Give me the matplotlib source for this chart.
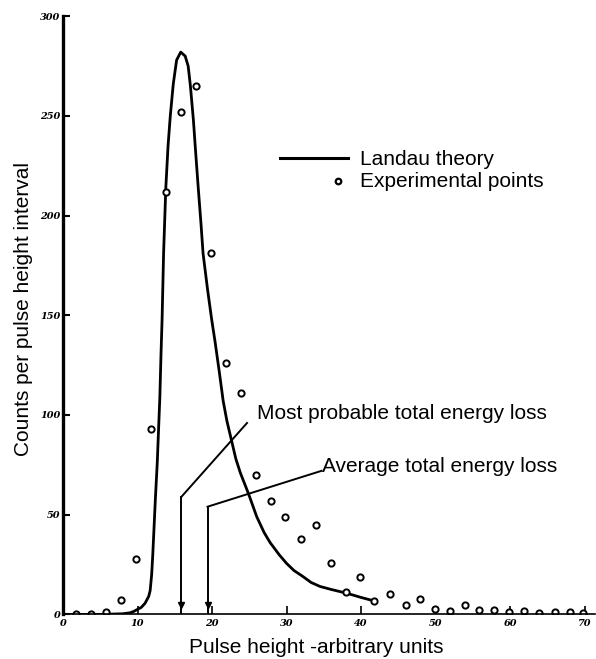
import matplotlib.pyplot as plt

# Landau theory curve
theory_x = [0, 5, 8, 9, 9.5, 10, 10.5, 11, 11.5, 11.7, 11.9, 12.05, 12.2, 12.4,
            12.65, 12.85, 13.0, 13.15, 13.3, 13.5, 13.8, 14.1, 14.4, 14.8, 15.25,
            15.8, 16.4, 16.8, 17.1, 17.5, 17.8, 18.15, 18.5, 18.8, 19.4, 19.95,
            20.4, 21.0, 21.5, 22.0, 22.6, 23.2, 23.8, 24.9, 26.0, 27.0, 27.8,
            29.0, 30.0, 31.0, 32.2, 33.3, 34.5, 36.0, 38.1, 40.0, 41.8]
theory_y = [0, 0, 0.3, 0.8, 1.5, 2.5, 3.5, 5.5, 9, 12, 20, 30, 42, 58,
            76, 95, 109, 130, 148, 181, 214, 235, 250, 266, 278,
            282, 280, 275, 265, 248, 232, 214, 197, 181, 163, 148,
            137, 121, 107, 97, 87.5, 78, 71, 60.5, 49, 41, 36,
            30, 25.6, 22, 19, 16, 14, 12.5, 10.6, 8.5, 6.7]

# Experimental points
exp_x = [1.8, 3.7, 5.8, 7.8, 9.8, 11.8, 13.8, 15.8, 17.9, 19.8, 21.9, 23.9,
         25.9, 27.9, 29.8, 31.9, 33.9, 36.0, 38.0, 39.9, 41.8, 43.9, 46.0,
         47.9, 49.9, 51.9, 53.9, 55.9, 57.9, 59.8, 61.9, 63.9, 66.0, 68.0, 69.8]
exp_y = [0, 0, 1, 7, 28, 93, 212, 252, 265, 181, 126, 111,
         70, 57, 49, 38, 45, 26, 11, 19, 6.5, 10, 4.5,
         7.5, 2.5, 1.5, 4.5, 2, 2, 1, 1.5, 0.8, 1, 1, 0.8]

x_ticks = [0, 10, 20, 30, 40, 50, 60, 70]
y_ticks = [0, 50, 100, 150, 200, 250, 300]

# annotation anchors: (vertical line x, knee y, text end x, text end y)
most_probable = (15.9, 59, 24.7, 96)
average = (19.4, 54, 34.7, 72)

plt.rcParams['font.family'] = ['Liberation Sans', 'DejaVu Sans']

fig = plt.figure(figsize=(5.96, 6.59), dpi=100)
ax = fig.add_axes([0.1057, 0.0677, 0.8926, 0.9077])

ax.plot(theory_x, theory_y, color='black', lw=2.0, solid_capstyle='round')
ax.plot(exp_x, exp_y, 'o', ls='none', mfc='white', mec='black', ms=4.5, mew=1.4)

# arrows for the two energy-loss markers
for vx, ky, tx, ty in (most_probable, average):
    ax.plot([vx, vx], [ky, 0.5], color='black', lw=1.4)
    ax.plot([vx, tx], [ky, ty], color='black', lw=1.4)
    ax.plot([vx], [4.5], marker='v', color='black', ms=4)

ax.text(26.1, 97.8, 'Most probable total energy loss', fontsize=15, va='baseline')
ax.text(34.7, 71.3, 'Average total energy loss', fontsize=15, va='baseline')

# hand-drawn legend
ax.plot([29.1, 38.2], [228.7, 228.7], color='black', lw=2.2)
ax.plot([36.95], [217.4], 'o', mfc='white', mec='black', ms=4, mew=1.6)
ax.text(39.8, 225.4, 'Landau theory', fontsize=15, va='baseline')
ax.text(39.8, 214.5, 'Experimental points', fontsize=15, va='baseline')

ax.set_xlim(0, 71.4)
ax.set_ylim(0, 300)
ax.set_xticks(x_ticks)
ax.set_yticks(y_ticks)
ax.set_xticklabels([str(v) for v in x_ticks])
ax.set_yticklabels([str(v) for v in y_ticks])

for lab in ax.get_xticklabels() + ax.get_yticklabels():
    lab.set_family('DejaVu Serif')
    lab.set_style('italic')
    lab.set_weight('bold')
    lab.set_fontsize(7)

ax.tick_params(axis='y', direction='in', length=5, width=1.5, pad=2)
ax.tick_params(axis='x', direction='in', length=6, width=1.2, pad=3)

for side in ('top', 'right'):
    ax.spines[side].set_visible(False)
ax.spines['left'].set_linewidth(2.4)
ax.spines['bottom'].set_linewidth(1.2)

fig.text(0.040, 0.531, 'Counts per pulse height interval', fontsize=15,
         rotation=90, ha='center', va='center')
fig.text(0.530, 0.0087, 'Pulse height -arbitrary units', fontsize=15,
         ha='center', va='baseline')

fig.savefig('out.png', dpi=100)
